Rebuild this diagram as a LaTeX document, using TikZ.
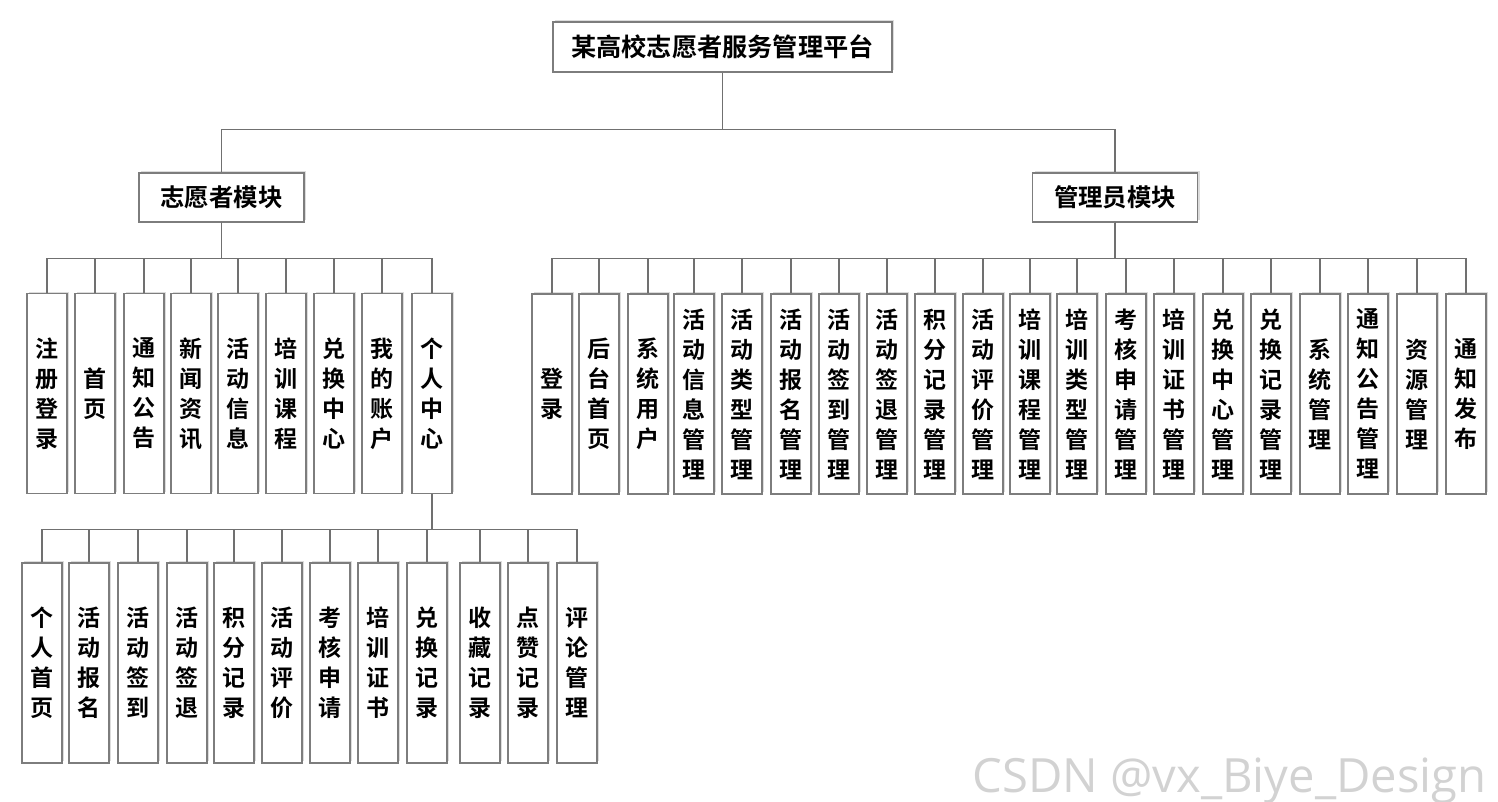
\documentclass[tikz,border=0pt]{standalone}
\usepackage{fontspec}
\newfontfamily\cjk{Noto Sans CJK SC}[BoldFont={Noto Sans CJK SC Bold}]
\newfontfamily\markfont{Open Sans}
\usetikzlibrary{shadows}
\definecolor{linegray}{RGB}{112,112,112}
\definecolor{boxgray}{RGB}{125,125,125}
\definecolor{markgray}{RGB}{210,210,210}
\tikzset{
  box/.style={draw=boxgray, fill=white, line width=0.6pt, inner sep=0pt,
    drop shadow={shadow xshift=1pt, shadow yshift=1pt, opacity=0.3, fill=black!45}},
  topbox/.style={box, minimum width=169.5pt, minimum height=25pt,
    font=\cjk\bfseries\fontsize{12.6}{15}\selectfont},
  modbox/.style={box, minimum width=82.5pt, minimum height=24.5pt,
    font=\cjk\bfseries\fontsize{12.2}{14}\selectfont},
  vbox/.style={box, minimum width=20pt, minimum height=100pt, align=center,
    font=\cjk\bfseries\fontsize{11.5}{15}\selectfont},
  link/.style={draw=linegray, line width=0.6pt},
}

\begin{document}
\begin{tikzpicture}[x=0.5pt,y=0.5pt,yscale=-1,xscale=1]
  \useasboundingbox (0,0) rectangle (1498,802);

  \node[topbox] (root) at (722.5,47) {某高校志愿者服务管理平台};
  \node[modbox] (vol) at (221.5,197.5) {志愿者模块};
  \node[modbox] (adm) at (1115,197.5) {管理员模块};
  \draw[link] (root.south) -- ++(0,57) -| (vol.north);
  \draw[link] (root.south) -- ++(0,57) -| (adm.north);

  % volunteer side
  \foreach \x/\t [count=\i] in {47/注\\册\\登\\录, 95/首\\页, 144/通\\知\\公\\告,
      191/新\\闻\\资\\讯, 238/活\\动\\信\\息, 286/培\\训\\课\\程,
      334/兑\\换\\中\\心, 382/我\\的\\账\\户, 432/个\\人\\中\\心} {
    \node[vbox] (v\i) at (\x,393.5) {\t};
    \draw[link] (vol.south) -- ++(0,36) -| (v\i.north);
  }

  % personal center
  \foreach \x/\t [count=\i] in {42/个\\人\\首\\页, 89/活\\动\\报\\名, 138/活\\动\\签\\到,
      187/活\\动\\签\\退, 234/积\\分\\记\\录, 282/活\\动\\评\\价,
      330/考\\核\\申\\请, 378/培\\训\\证\\书, 427/兑\\换\\记\\录,
      480/收\\藏\\记\\录, 528/点\\赞\\记\\录, 577/评\\论\\管\\理} {
    \node[vbox] (s\i) at (\x,663) {\t};
    \draw[link] (v9.south) -- ++(0,35) -| (s\i.north);
  }

  % admin side
  \foreach \x/\t [count=\i] in {552/登\\录, 599/后\\台\\首\\页, 648/系\\统\\用\\户,
      694/活\\动\\信\\息\\管\\理, 742/活\\动\\类\\型\\管\\理, 791/活\\动\\报\\名\\管\\理,
      839/活\\动\\签\\到\\管\\理, 887/活\\动\\签\\退\\管\\理, 935/积\\分\\记\\录\\管\\理,
      983/活\\动\\评\\价\\管\\理, 1030/培\\训\\课\\程\\管\\理, 1077/培\\训\\类\\型\\管\\理,
      1126/考\\核\\申\\请\\管\\理, 1174/培\\训\\证\\书\\管\\理, 1223/兑\\换\\中\\心\\管\\理,
      1271/兑\\换\\记\\录\\管\\理, 1320/系\\统\\管\\理, 1368/通\\知\\公\\告\\管\\理,
      1417/资\\源\\管\\理, 1466/通\\知\\发\\布} {
    \node[vbox] (a\i) at (\x,394) {\t};
    \draw[link] (adm.south) -- ++(0,36) -| (a\i.north);
  }

  \node[font=\markfont\fontsize{23.6}{27}\selectfont, text=markgray, anchor=base west,
    inner sep=0pt] (mark) at (972,792) {CSDN @vx\_Biye\_Design};
\end{tikzpicture}
\end{document}
